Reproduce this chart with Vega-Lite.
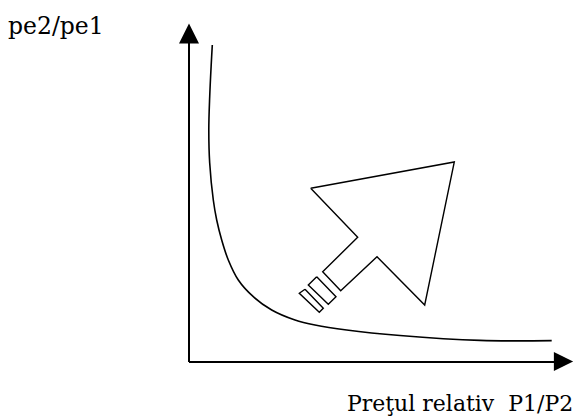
{
  "$schema": "https://vega.github.io/schema/vega-lite/v6.json",
  "width": 577,
  "height": 420,
  "autosize": {"type": "fit", "contains": "padding"},
  "padding": 0,
  "background": "white",
  "config": {"view": {"stroke": null}},
  "datasets": {
    "axes": [
      {"part": "vertical", "i": 0, "X": 0, "Y": 0},
      {"part": "vertical", "i": 1, "X": 0, "Y": 322},
      {"part": "horizontal", "i": 0, "X": 0, "Y": 0},
      {"part": "horizontal", "i": 1, "X": 368, "Y": 0}
    ],
    "heads": [
      {"dir": "up", "X": 0, "Y": 328.5},
      {"dir": "right", "X": 374.5, "Y": 0.5}
    ],
    "curve": [
      {"i": 0, "X": 23.3, "Y": 317},
      {"i": 1, "X": 22.3, "Y": 299},
      {"i": 2, "X": 20.7, "Y": 265.3},
      {"i": 3, "X": 19.8, "Y": 232},
      {"i": 4, "X": 20.7, "Y": 199},
      {"i": 5, "X": 24.3, "Y": 162},
      {"i": 6, "X": 27.7, "Y": 142},
      {"i": 7, "X": 32.7, "Y": 122},
      {"i": 8, "X": 39.3, "Y": 102},
      {"i": 9, "X": 49.3, "Y": 82},
      {"i": 10, "X": 64.3, "Y": 65.3},
      {"i": 11, "X": 82.7, "Y": 52},
      {"i": 12, "X": 106, "Y": 42},
      {"i": 13, "X": 126, "Y": 37},
      {"i": 14, "X": 157.7, "Y": 32},
      {"i": 15, "X": 211, "Y": 26.5},
      {"i": 16, "X": 291, "Y": 21.6},
      {"i": 17, "X": 362.7, "Y": 21.4}
    ],
    "arrow": [
      {"part": "head", "i": 0, "X": 121.7, "Y": 173.7},
      {"part": "head", "i": 1, "X": 265.3, "Y": 200},
      {"part": "head", "i": 2, "X": 235.7, "Y": 57},
      {"part": "head", "i": 3, "X": 188, "Y": 105.3},
      {"part": "head", "i": 4, "X": 151.7, "Y": 71.3},
      {"part": "head", "i": 5, "X": 133.7, "Y": 90.3},
      {"part": "head", "i": 6, "X": 168.7, "Y": 124.7},
      {"part": "head", "i": 7, "X": 121.7, "Y": 173.7},
      {"part": "band1", "i": 0, "X": 127.7, "Y": 85.3},
      {"part": "band1", "i": 1, "X": 147, "Y": 65.3},
      {"part": "band1", "i": 2, "X": 139.3, "Y": 57.7},
      {"part": "band1", "i": 3, "X": 119.3, "Y": 77},
      {"part": "band1", "i": 4, "X": 127.7, "Y": 85.3},
      {"part": "band2", "i": 0, "X": 116, "Y": 72.7},
      {"part": "band2", "i": 1, "X": 134.3, "Y": 53.7},
      {"part": "band2", "i": 2, "X": 130.3, "Y": 49.7},
      {"part": "band2", "i": 3, "X": 110.3, "Y": 68.7},
      {"part": "band2", "i": 4, "X": 116, "Y": 72.7}
    ],
    "labels": [
      {"text": "pe2/pe1", "X": -181, "Y": 328.5, "align": "left"},
      {"text": "Preţul relativ\u00a0 P1/P2", "X": 384.3, "Y": -49, "align": "right"}
    ]
  },
  "encoding": {
    "x": {"field": "X", "type": "quantitative", "scale": {"domain": [-189, 388], "zero": false, "nice": false}, "axis": null},
    "y": {"field": "Y", "type": "quantitative", "scale": {"domain": [-58, 362], "zero": false, "nice": false}, "axis": null}
  },
  "layer": [
    {
      "data": {"name": "axes"},
      "mark": {"type": "line", "color": "black", "strokeWidth": 2, "strokeCap": "butt"},
      "encoding": {"detail": {"field": "part"}, "order": {"field": "i", "type": "quantitative"}}
    },
    {
      "data": {"name": "heads"},
      "transform": [{"filter": "datum.dir == 'up'"}],
      "mark": {"type": "point", "shape": "M0,-1L-1,1L1,1Z", "size": 400, "filled": true, "color": "black", "opacity": 1, "strokeWidth": 0}
    },
    {
      "data": {"name": "heads"},
      "transform": [{"filter": "datum.dir == 'right'"}],
      "mark": {"type": "point", "shape": "M1,0L-1,-1L-1,1Z", "size": 370, "filled": true, "color": "black", "opacity": 1, "strokeWidth": 0}
    },
    {
      "data": {"name": "curve"},
      "mark": {"type": "line", "color": "black", "strokeWidth": 1.6, "interpolate": "catmull-rom"},
      "encoding": {"order": {"field": "i", "type": "quantitative"}}
    },
    {
      "data": {"name": "arrow"},
      "mark": {"type": "line", "color": "black", "strokeWidth": 1.4, "strokeJoin": "miter"},
      "encoding": {"detail": {"field": "part"}, "order": {"field": "i", "type": "quantitative"}}
    },
    {
      "data": {"name": "labels"},
      "transform": [{"filter": "datum.align == 'left'"}],
      "mark": {"type": "text", "align": "left", "baseline": "alphabetic", "font": "DejaVu Serif", "fontSize": 23.5, "color": "black"},
      "encoding": {"text": {"field": "text"}}
    },
    {
      "data": {"name": "labels"},
      "transform": [{"filter": "datum.align == 'right'"}],
      "mark": {"type": "text", "align": "right", "baseline": "alphabetic", "font": "DejaVu Serif", "fontSize": 22, "color": "black"},
      "encoding": {"text": {"field": "text"}}
    }
  ]
}
